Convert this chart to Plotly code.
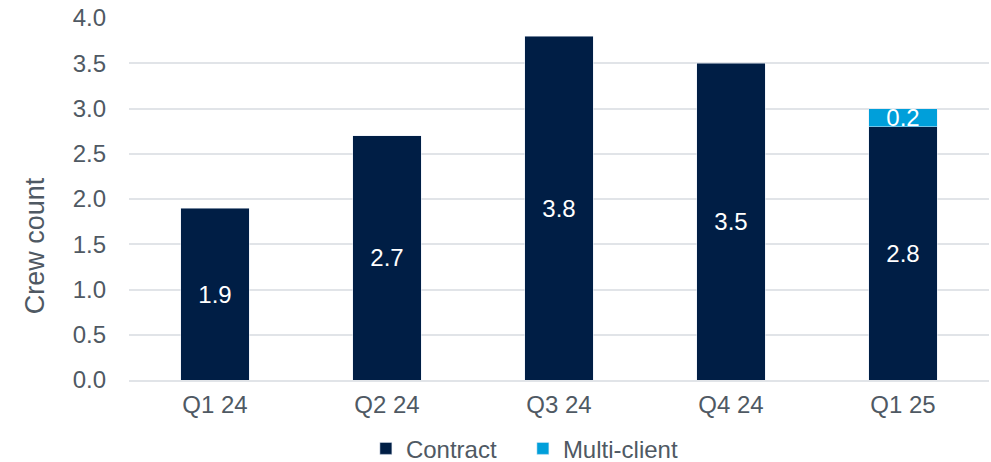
import plotly.graph_objects as go

quarters = ["Q1 24", "Q2 24", "Q3 24", "Q4 24", "Q1 25"]
contract = [1.9, 2.7, 3.8, 3.5, 2.8]
multi_client = [None, None, None, None, 0.2]

NAVY = "#001E45"
BLUE = "#009FDA"
GRAY = "#4F5963"
FONT = "Liberation Sans, Arial, sans-serif"

fig = go.Figure()
fig.add_trace(go.Bar(
    x=quarters, y=contract, name="Contract", marker_color=NAVY,
    text=[f"{v:.1f}" for v in contract], textposition="inside",
    insidetextanchor="middle", textfont=dict(color="white", size=24, family=FONT),
))
fig.add_trace(go.Bar(
    x=quarters, y=multi_client, name="Multi-client", marker_color=BLUE,
    text=[f"{v:.1f}" if v else "" for v in multi_client], textposition="inside",
    insidetextanchor="middle", textfont=dict(color="white", size=24, family=FONT),
))

fig.add_annotation(
    text="Crew count", textangle=-90, xref="paper", yref="paper",
    x=-0.109, y=0.37, xanchor="center", yanchor="middle", showarrow=False,
    font=dict(size=27, color=GRAY, family=FONT),
)

fig.update_layout(
    barmode="stack", bargap=0.6,
    width=991, height=462,
    margin=dict(l=129, r=2, t=18, b=82, autoexpand=False),
    plot_bgcolor="white", paper_bgcolor="white",
    font=dict(family=FONT, color=GRAY, size=24),
    uniformtext=dict(minsize=24, mode="show"),
    legend=dict(orientation="h", x=0.458, xanchor="center",
                y=-0.19, yanchor="middle", bgcolor="rgba(0,0,0,0)",
                font=dict(size=24, color=GRAY), traceorder="normal",
                itemwidth=30, entrywidth=112),
    yaxis=dict(range=[0, 4.0], dtick=0.5, tickformat=".1f", showgrid=True,
               gridcolor="#E1E4E8", gridwidth=2, zeroline=False,
               showline=False, ticklabelstandoff=22, automargin=False,
               tickfont=dict(size=24, color=GRAY)),
    xaxis=dict(showline=True, linecolor="#E1E4E8", linewidth=2, ticklabelstandoff=2,
               automargin=False, tickfont=dict(size=24, color=GRAY)),
)

fig.write_html("out.html", config={"displayModeBar": False},
               post_script="document.body.style.margin='0';document.body.style.padding='0';")
